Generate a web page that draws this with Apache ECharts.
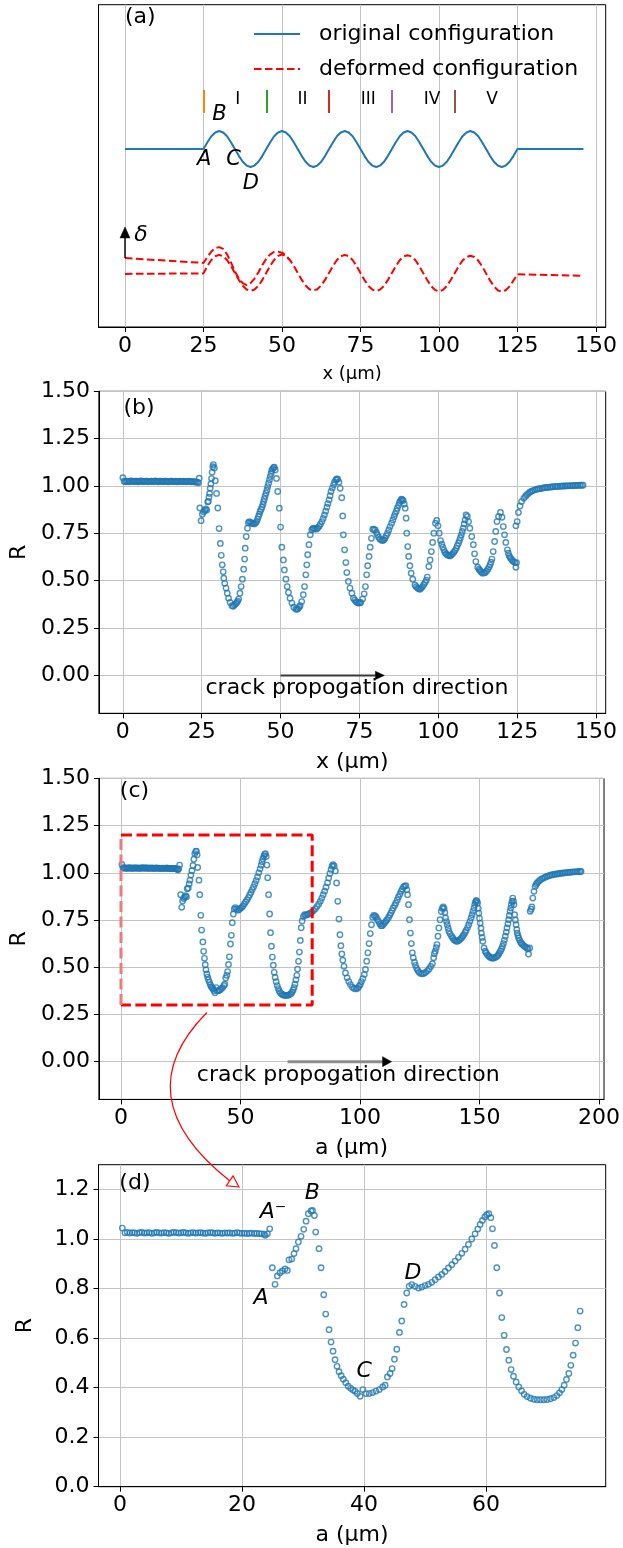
<!DOCTYPE html>
<html>
<head>
<meta charset="utf-8">
<script src="https://cdn.jsdelivr.net/npm/echarts@6/dist/echarts.min.js"></script>
<style>
  html, body { margin: 0; padding: 0; background: #fff; }
  #chart { width: 623px; height: 1548px; }
</style>
</head>
<body>
<div id="chart"></div>
<script>
const FONT = 'DejaVu Sans';

// ---- (a) crack path: original wavy profile and the deformed (opened) faces ----
const pathX = [0, 25, 26.25, 27.5, 28.75, 30, 31.25, 32.5, 33.75, 35, 36.25, 37.5, 38.75, 40, 41.25, 42.5, 43.75,
  45, 46.25, 47.5, 48.75, 50, 51.25, 52.5, 53.75, 55, 56.25, 57.5, 58.75, 60, 61.25, 62.5, 63.75,
  65, 66.25, 67.5, 68.75, 70, 71.25, 72.5, 73.75, 75, 76.25, 77.5, 78.75, 80, 81.25, 82.5, 83.75,
  85, 86.25, 87.5, 88.75, 90, 91.25, 92.5, 93.75, 95, 96.25, 97.5, 98.75, 100, 101.25, 102.5, 103.75,
  105, 106.25, 107.5, 108.75, 110, 111.25, 112.5, 113.75, 115, 116.25, 117.5, 118.75, 120, 121.25, 122.5, 123.75,
  125, 146];
const originalY = [0,
  0, 0.38, 0.71, 0.92, 1, 0.92, 0.71, 0.38, 0, -0.38, -0.71, -0.92, -1, -0.92, -0.71, -0.38,
  0, 0.38, 0.71, 0.92, 1, 0.92, 0.71, 0.38, 0, -0.38, -0.71, -0.92, -1, -0.92, -0.71, -0.38,
  0, 0.38, 0.71, 0.92, 1, 0.92, 0.71, 0.38, 0, -0.38, -0.71, -0.92, -1, -0.92, -0.71, -0.38,
  0, 0.38, 0.71, 0.92, 1, 0.92, 0.71, 0.38, 0, -0.38, -0.71, -0.92, -1, -0.92, -0.71, -0.38,
  0, 0.38, 0.71, 0.92, 1, 0.92, 0.71, 0.38, 0, -0.38, -0.71, -0.92, -1, -0.92, -0.71, -0.38,
  0, 0];
const deformedLowerY = [-6.94,
  -6.91, -6.5, -6.17, -5.96, -5.88, -5.96, -6.17, -6.5, -6.89, -7.27, -7.6, -7.81, -7.88, -7.81, -7.6, -7.27,
  -6.88, -6.49, -6.16, -5.94, -5.86, -5.94, -6.16, -6.49, -6.88, -7.26, -7.58, -7.79, -7.86, -7.79, -7.58, -7.26,
  -6.88, -6.5, -6.17, -5.96, -5.88, -5.96, -6.17, -6.5, -6.89, -7.27, -7.6, -7.81, -7.89, -7.81, -7.6, -7.27,
  -6.89, -6.51, -6.18, -5.97, -5.9, -5.97, -6.18, -6.51, -6.9, -7.28, -7.61, -7.83, -7.91, -7.83, -7.61, -7.28,
  -6.9, -6.52, -6.2, -6.0, -5.93, -6.0, -6.2, -6.52, -6.91, -7.3, -7.63, -7.85, -7.93, -7.85, -7.63, -7.3,
  -6.96, -7.04];
const deformedUpperX = [0, 25, 26.25, 27.5, 28.75, 30, 31.25, 32.5, 33.75, 35, 36.25, 37.5, 38.75, 40, 41.25,
  42.5, 43.75, 45, 46.25, 47.5, 48.75, 50, 51.25, 52.5];
const deformedUpperY = [-6.06, -6.33, -6.0, -5.7, -5.5, -5.45, -5.55, -5.85, -6.3, -6.8, -7.2, -7.45, -7.56, -7.45, -7.2,
  -6.85, -6.45, -6.1, -5.85, -5.72, -5.7, -5.76, -5.92, -6.17];

const regionMarkX = [25, 45, 65, 85, 105];
const regionMarkColors = ['#ff7f0e', '#2ca02c', '#d62728', '#9467bd', '#8c564b'];
const regionNames = ['I', 'II', 'III', 'IV', 'V'];
const regionNameX = [35.9, 56.5, 77.5, 97.8, 116.9];

// ---- (b) R against position x along the interface ----
const ratioByX = [
  [0,1.044],[0.4,1.025],[0.8,1.023],[1.2,1.026],[1.6,1.024],[2.0,1.022],[2.4,1.025],[2.8,1.027],[3.2,1.024],[3.6,1.023],
  [4.0,1.026],[4.4,1.025],[4.8,1.022],[5.2,1.024],[5.6,1.027],[6.0,1.025],[6.4,1.023],[6.8,1.024],[7.2,1.026],[7.6,1.025],
  [8.0,1.022],[8.4,1.024],[8.8,1.026],[9.2,1.025],[9.6,1.023],[10.0,1.025],[10.4,1.027],[10.8,1.024],[11.2,1.022],[11.6,1.025],
  [12.0,1.026],[12.4,1.024],[12.8,1.023],[13.2,1.025],[13.6,1.026],[14.0,1.024],[14.4,1.022],[14.8,1.024],[15.2,1.026],[15.6,1.025],
  [16.0,1.023],[16.4,1.024],[16.8,1.025],[17.2,1.022],[17.6,1.024],[18.0,1.026],[18.4,1.024],[18.8,1.023],[19.2,1.025],[19.6,1.024],
  [20.0,1.022],[20.4,1.024],[20.8,1.025],[21.2,1.023],[21.6,1.022],[22.0,1.024],[22.4,1.023],[22.8,1.021],[23.2,1.022],[23.6,1.02],
  [24.0,1.017],[24.2,1.041],
  [24.4,0.884],[24.8,0.817],[25.2,0.851],[25.6,0.864],[26.0,0.871],[26.3,0.879],[26.6,0.873],[26.9,0.916],[27.1,0.919],[27.3,0.941],
  [27.5,0.961],[27.7,0.988],[27.9,1.011],[28.1,1.039],[28.3,1.072],[28.5,1.102],[28.7,1.113],[29.0,1.095],[29.3,1.028],[29.7,0.961],
  [30.1,0.884],[30.5,0.775],[30.9,0.697],[31.2,0.634],[31.5,0.584],[31.8,0.547],[32.0,0.513],[32.3,0.486],[32.7,0.461],[33.1,0.434],
  [33.5,0.408],[34.0,0.385],[34.6,0.368],[35.0,0.365],[35.4,0.373],[35.8,0.378],[36.1,0.385],[36.4,0.392],[36.7,0.403],[37.1,0.434],
  [37.5,0.469],[37.9,0.508],[38.3,0.561],[38.6,0.614],[38.8,0.672],[39.1,0.733],[39.5,0.777],[39.8,0.806],[40.1,0.812],[40.5,0.808],
  [40.9,0.803],[41.3,0.801],[41.7,0.8],[42.1,0.806],[42.4,0.812],[42.7,0.825],[43.0,0.839],[43.3,0.852],[43.5,0.865],[43.8,0.876],
  [44.1,0.888],[44.4,0.903],[44.6,0.918],[44.9,0.933],[45.1,0.948],[45.4,0.963],[45.7,0.979],[45.9,0.997],[46.2,1.015],[46.5,1.033],
  [46.7,1.05],[47.0,1.066],[47.2,1.081],[47.5,1.09],[47.8,1.097],[48.0,1.1],[48.3,1.085],[48.7,1.04],[49.1,0.971],[49.6,0.883],
  [50.0,0.783],[50.4,0.677],[50.9,0.61],[51.2,0.557],[51.7,0.508],[52.1,0.469],[52.5,0.438],[53.0,0.408],[53.6,0.382],[54.2,0.36],
  [54.8,0.35],[55.2,0.349],[55.5,0.352],[55.9,0.36],[56.2,0.368],[56.7,0.39],[57.2,0.426],[57.6,0.469],[58.0,0.531],[58.3,0.584],
  [58.6,0.637],[59.0,0.69],[59.4,0.742],[59.9,0.768],[60.2,0.775],[60.5,0.777],[60.9,0.774],[61.4,0.772],[61.8,0.779],[62.2,0.786],
  [62.6,0.798],[63.1,0.812],[63.5,0.829],[63.9,0.847],[64.3,0.867],[64.7,0.888],[65.0,0.907],[65.4,0.927],[65.7,0.949],[66.0,0.971],
  [66.4,0.989],[66.8,1.006],[67.1,1.02],[67.5,1.032],[67.8,1.037],[68.1,1.036],[68.5,1.02],[68.9,0.988],[69.4,0.938],[69.7,0.842],
  [69.9,0.742],[70.3,0.663],[70.7,0.596],[71.0,0.543],[71.5,0.496],[72.0,0.461],[72.6,0.434],[73.1,0.408],[73.5,0.398],[73.9,0.39],
  [74.3,0.385],[74.7,0.382],[75.1,0.383],[75.4,0.385],[76.0,0.403],[76.5,0.431],[76.9,0.469],[77.3,0.531],[77.6,0.579],[78.05,0.628],
  [78.4,0.677],[78.8,0.724],[79.2,0.772],[79.6,0.771],[80.0,0.768],[80.4,0.755],[80.7,0.742],[81.1,0.73],[81.5,0.719],[82.0,0.714],
  [82.4,0.712],[82.8,0.716],[83.1,0.724],[83.5,0.737],[83.9,0.751],[84.3,0.768],[84.7,0.786],[85.2,0.804],[85.6,0.821],[86.0,0.838],
  [86.3,0.853],[86.7,0.868],[87.0,0.883],[87.4,0.898],[87.7,0.913],[88.0,0.922],[88.3,0.93],[88.6,0.928],[88.9,0.923],[89.2,0.905],
  [89.5,0.883],[89.8,0.83],[90.0,0.751],[90.3,0.68],[90.6,0.628],[91.0,0.579],[91.4,0.54],[91.9,0.508],[92.6,0.478],[93.0,0.468],
  [93.4,0.461],[93.8,0.457],[94.2,0.455],[94.6,0.461],[95.0,0.469],[95.4,0.479],[95.8,0.49],[96.2,0.503],[96.5,0.519],[97.0,0.575],
  [97.4,0.61],[97.8,0.654],[98.2,0.702],[98.6,0.751],[99.1,0.804],[99.5,0.818],[99.9,0.79],[100.3,0.751],[100.7,0.712],[101.1,0.693],
  [101.4,0.677],[101.8,0.662],[102.1,0.649],[102.5,0.641],[102.9,0.636],[103.3,0.633],[103.7,0.631],[104.1,0.636],[104.5,0.642],[104.9,0.65],
  [105.3,0.659],[105.7,0.671],[106.0,0.684],[106.4,0.698],[106.7,0.712],[107.0,0.727],[107.3,0.742],[107.6,0.76],[107.9,0.777],[108.2,0.8],
  [108.5,0.821],[108.8,0.847],[109.2,0.839],[109.6,0.812],[110.0,0.777],[110.6,0.733],[111.1,0.69],[111.5,0.642],[111.9,0.601],[112.5,0.571],
  [112.9,0.561],[113.2,0.554],[113.6,0.546],[114.0,0.54],[114.5,0.541],[114.9,0.543],[115.3,0.551],[115.7,0.561],[116.1,0.572],[116.4,0.584],
  [116.7,0.598],[117.0,0.614],[117.4,0.654],[117.85,0.707],[118.2,0.76],[118.6,0.812],[119.1,0.839],[119.7,0.86],[120.2,0.835],[120.6,0.786],
  [121.0,0.742],[121.4,0.702],[121.9,0.663],[122.2,0.645],[122.5,0.631],[122.8,0.622],[123.1,0.614],[123.5,0.607],[123.8,0.601],[124.3,0.596],
  [124.6,0.571],[124.8,0.596],
  [124.6,0.79],[125.0,0.812],[125.4,0.86],[125.9,0.895],[126.4,0.918],[127.1,0.935],[127.6,0.945],[128.0,0.953],[128.5,0.96],[129.0,0.967],
  [129.5,0.972],[130.0,0.976],[130.6,0.98],[131.2,0.983],[131.7,0.985],[132.2,0.986],[132.8,0.988],[133.3,0.99],[133.8,0.991],[134.3,0.992],
  [134.8,0.993],[135.4,0.994],[135.9,0.995],[136.4,0.996],[137.0,0.997],[137.5,0.998],[138.0,0.998],[138.6,0.999],[139.1,0.999],[139.6,1.0],
  [140.2,1.0],[140.7,1.001],[141.2,1.001],[141.7,1.002],[142.3,1.002],[142.8,1.002],[143.3,1.003],[143.8,1.003],[144.3,1.003],[144.9,1.004],
  [145.4,1.004],[145.9,1.004]
];

// ---- (c)/(d) R against crack length a ----
const ratioByA = [
  [0.38,1.044],[0.8,1.025],[1.2,1.027],[1.6,1.024],[2.0,1.026],[2.4,1.025],[2.8,1.023],[3.2,1.026],[3.6,1.027],[4.0,1.024],
  [4.4,1.025],[4.8,1.026],[5.2,1.023],[5.6,1.025],[6.0,1.027],[6.4,1.025],[6.8,1.024],[7.2,1.026],[7.6,1.025],[8.0,1.023],
  [8.4,1.025],[8.8,1.027],[9.2,1.026],[9.6,1.024],[10.0,1.025],[10.4,1.027],[10.8,1.025],[11.2,1.023],[11.6,1.025],[12.0,1.026],
  [12.4,1.024],[12.8,1.025],[13.2,1.026],[13.6,1.024],[14.0,1.023],[14.4,1.025],[14.8,1.026],[15.2,1.025],[15.6,1.023],[16.0,1.025],
  [16.4,1.024],[16.8,1.023],[17.2,1.025],[17.6,1.024],[18.0,1.025],[18.4,1.023],[18.8,1.024],[19.2,1.026],[19.6,1.024],[20.0,1.023],
  [20.4,1.024],[20.8,1.022],[21.2,1.023],[21.6,1.024],[22.0,1.022],[22.4,1.023],[22.8,1.022],[23.2,1.021],[23.6,1.02],[23.8,1.015],
  [24.15,1.021],[24.54,1.041],
  [24.97,0.884],[25.41,0.817],[25.79,0.851],[26.23,0.864],[26.61,0.871],[27.05,0.879],[27.43,0.873],[27.7,0.916],[28.14,0.919],[28.52,0.941],
  [28.85,0.961],[29.24,0.988],[29.67,1.011],[30.11,1.039],[30.49,1.072],[30.87,1.102],[31.31,1.113],[31.55,1.115],[31.86,1.095],[32.08,1.028],
  [32.62,0.961],[32.95,0.884],[33.39,0.775],[33.72,0.697],[34.26,0.634],[34.59,0.584],[34.92,0.547],[35.25,0.513],[35.57,0.486],[35.9,0.464],
  [36.25,0.448],[36.6,0.434],[37.0,0.42],[37.4,0.406],[37.8,0.397],[38.2,0.39],[38.55,0.385],[38.9,0.376],[39.35,0.365],[39.8,0.392],
  [40.3,0.376],[40.85,0.376],[41.4,0.38],[41.95,0.386],[42.5,0.392],[43.05,0.403],[43.45,0.41],[43.83,0.443],[44.27,0.457],[44.6,0.477],
  [44.98,0.515],[45.36,0.555],[45.8,0.623],[46.18,0.669],[46.56,0.736],[47.0,0.782],[47.38,0.809],[47.82,0.816],[48.36,0.809],[48.91,0.802],
  [49.46,0.806],[50.0,0.812],[50.55,0.817],[51.1,0.825],[51.64,0.836],[52.19,0.847],[52.74,0.857],[53.28,0.869],[53.83,0.883],[54.38,0.896],
  [54.92,0.911],[55.47,0.926],[56.02,0.942],[56.56,0.959],[57.11,0.978],[57.65,1.0],[58.2,1.021],[58.64,1.04],[59.02,1.059],[59.4,1.075],
  [59.79,1.089],[60.11,1.098],[60.44,1.102],[60.77,1.086],[61.04,1.041],[61.37,0.974],[61.75,0.884],[62.19,0.782],[62.57,0.683],[62.96,0.611],
  [63.34,0.554],[63.72,0.511],[64.1,0.473],[64.49,0.446],[64.92,0.423],[65.36,0.403],[65.8,0.387],[66.23,0.373],[66.73,0.364],[67.27,0.357],
  [67.82,0.353],[68.37,0.351],[68.91,0.351],[69.46,0.351],[70.0,0.352],[70.55,0.355],[71.1,0.36],[71.59,0.368],[72.03,0.379],[72.41,0.392],
  [72.79,0.41],[73.17,0.433],[73.56,0.457],[73.88,0.49],[74.27,0.531],[74.65,0.58],[75.03,0.642],[75.41,0.709],
  [75.8,0.745],[76.3,0.768],[76.8,0.778],[77.3,0.776],[77.9,0.778],[78.5,0.782],[79.2,0.787],[79.9,0.792],[80.6,0.8],[81.3,0.81],
  [82.0,0.821],[82.7,0.834],[83.4,0.849],[84.0,0.866],[84.6,0.884],[85.2,0.903],[85.8,0.924],[86.4,0.947],[86.9,0.972],[87.4,0.996],
  [87.9,1.018],[88.3,1.035],[88.7,1.043],[89.2,1.036],[89.7,1.01],[90.2,0.946],[90.7,0.849],[91.2,0.755],[91.6,0.672],[92.0,0.614],
  [92.4,0.57],[92.8,0.537],[93.3,0.505],[93.9,0.47],[94.6,0.444],[95.3,0.424],[96.0,0.408],[96.8,0.394],[97.6,0.387],[98.3,0.385],
  [99.0,0.389],[99.6,0.398],[100.1,0.408],[100.6,0.424],[101.2,0.44],[101.8,0.462],[102.3,0.488],[102.8,0.532],[103.3,0.576],[103.8,0.625],
  [104.3,0.678],[104.8,0.725],[105.3,0.765],[105.8,0.775],[106.3,0.772],[106.8,0.765],[107.3,0.752],[107.8,0.742],[108.3,0.73],[108.8,0.72],
  [109.3,0.72],[109.8,0.727],[110.3,0.735],[110.8,0.743],[111.3,0.752],[111.9,0.762],[112.4,0.775],[112.9,0.787],[113.4,0.8],[113.9,0.814],
  [114.5,0.827],[115.0,0.84],[115.6,0.856],[116.1,0.872],[116.7,0.887],[117.2,0.902],[117.7,0.914],[118.2,0.925],[118.7,0.93],[119.2,0.932],
  [119.6,0.91],[119.9,0.884],[120.3,0.831],[120.7,0.752],[121.1,0.681],[121.5,0.625],[121.9,0.576],[122.3,0.55],[122.8,0.527],[123.2,0.51],
  [123.7,0.494],[124.2,0.482],[124.7,0.473],[125.4,0.467],[126.1,0.465],[126.8,0.468],[127.5,0.473],[128.2,0.481],[128.9,0.491],[129.6,0.504],
  [130.3,0.519],[130.8,0.55],[131.1,0.572],[131.5,0.585],[131.9,0.603],[132.2,0.62],[132.6,0.664],[133.0,0.708],[133.5,0.752],[134.0,0.795],
  [134.4,0.812],[134.8,0.819],[135.2,0.812],[135.5,0.79],[135.8,0.761],[136.2,0.742],[136.5,0.725],[136.9,0.707],[137.2,0.69],[137.7,0.677],
  [138.3,0.664],[138.8,0.655],[139.3,0.646],[139.8,0.641],[140.3,0.637],[140.8,0.638],[141.4,0.643],[141.9,0.648],[142.5,0.655],[143.0,0.664],
  [143.5,0.673],[144.0,0.684],[144.4,0.695],[145.0,0.71],[145.5,0.725],[146.0,0.743],[146.5,0.761],[146.9,0.778],[147.3,0.796],[147.7,0.813],
  [148.0,0.831],[148.3,0.845],[148.6,0.854],[148.9,0.849],[149.2,0.84],[149.5,0.812],[149.7,0.787],[150.0,0.76],[150.3,0.734],[150.6,0.707],
  [150.8,0.681],[151.1,0.658],[151.4,0.637],[151.9,0.602],[152.4,0.585],[152.8,0.576],[153.3,0.566],[153.9,0.558],[154.4,0.553],[155.0,0.549],
  [155.5,0.548],[156.1,0.549],[156.7,0.553],[157.4,0.558],[157.9,0.566],[158.3,0.576],[158.8,0.586],[159.2,0.597],[159.6,0.61],[160.0,0.625],
  [160.4,0.644],[160.8,0.664],[161.2,0.686],[161.5,0.708],[161.9,0.73],[162.2,0.752],[162.5,0.774],[162.8,0.796],[163.1,0.813],[163.3,0.831],
  [163.6,0.848],[163.9,0.866],[164.2,0.85],[164.4,0.831],[164.7,0.778],[165.0,0.75],[165.3,0.725],[165.6,0.7],[165.8,0.681],[166.1,0.667],
  [166.4,0.655],[166.8,0.643],[167.2,0.632],[167.6,0.626],[168.0,0.62],[168.6,0.613],[169.2,0.607],[169.8,0.602],[170.3,0.597],[170.5,0.57],
  [171.0,0.602],
  [171.2,0.796],[171.6,0.807],[171.9,0.819],[172.3,0.866],[172.8,0.902],[173.3,0.928],[173.7,0.938],[174.1,0.946],[174.7,0.954],[175.4,0.962],
  [176.1,0.968],[176.8,0.972],[177.5,0.977],[178.2,0.981],[178.9,0.984],[179.6,0.987],[180.3,0.989],[181.0,0.991],[181.7,0.993],[182.4,0.994],
  [183.0,0.995],[183.7,0.997],[184.4,0.998],[185.1,0.999],[185.8,1.0],[186.5,1.001],[187.2,1.002],[187.9,1.003],[188.6,1.004],[189.3,1.005],
  [190.0,1.005],[190.7,1.006],[191.4,1.006],[192.1,1.007],[192.5,1.007]
];

// zoom window of (c) shown enlarged in (d)
const zoomBoxA = [0, 80];
const zoomBoxR = [0.3, 1.2];
const zoomedUpTo = 75.5;

const ticksX150 = [0, 25, 50, 75, 100, 125, 150];
const ticksA200 = [0, 50, 100, 150, 200];
const ticksA60 = [0, 20, 40, 60];
const ticksR = [0, 0.25, 0.5, 0.75, 1.0, 1.25, 1.5];
const ticksRd = [0, 0.2, 0.4, 0.6, 0.8, 1.0, 1.2];

const BLUE = '#1f77b4';
const GRID_COLOR = '#c4c4c4';

const grids = [
  { left: 98.5, top: 4.7, width: 507.2, height: 322.3 },
  { left: 98.5, top: 391.3, width: 507.2, height: 322 },
  { left: 98.5, top: 778.4, width: 507.2, height: 321 },
  { left: 98.5, top: 1164.7, width: 507.2, height: 322 }
].map(g => Object.assign({ show: true, borderColor: '#000', borderWidth: 1, backgroundColor: 'transparent' }, g));

function xAxisFor(gi, min, max, ticks, name, nameSize) {
  return {
    type: 'value', gridIndex: gi, min, max, name, nameLocation: 'middle', nameGap: 38,
    nameTextStyle: { fontFamily: FONT, fontSize: nameSize, color: '#000' },
    axisLine: { show: true, onZero: false, lineStyle: { color: '#000', width: 1 } },
    axisTick: { show: true, length: 5, customValues: ticks, lineStyle: { color: '#000', width: 1 } },
    axisLabel: { customValues: ticks, fontFamily: FONT, fontSize: 22, color: '#000', margin: 8 },
    splitLine: { show: true, lineStyle: { color: GRID_COLOR, width: 1 } }
  };
}
function yAxisFor(gi, min, max, ticks, digits) {
  return {
    type: 'value', gridIndex: gi, min, max, name: 'R', nameLocation: 'middle', nameGap: 62,
    nameTextStyle: { fontFamily: FONT, fontSize: 22, color: '#000' },
    axisLine: { show: true, onZero: false, lineStyle: { color: '#000', width: 1 } },
    axisTick: { show: true, length: 5, customValues: ticks, lineStyle: { color: '#000', width: 1 } },
    axisLabel: { customValues: ticks, fontFamily: FONT, fontSize: 22, color: '#000', margin: 9,
      formatter: v => Number(v).toFixed(digits) },
    splitLine: { show: true, lineStyle: { color: GRID_COLOR, width: 1 } }
  };
}

const ringStyle = { color: 'rgba(255,255,255,0)', borderColor: BLUE, borderWidth: 1.4 };

const option = {
  animation: false,
  backgroundColor: '#fff',
  textStyle: { fontFamily: FONT },
  grid: grids,
  legend: {
    data: ['original configuration', 'deformed configuration'],
    orient: 'vertical', left: 253, top: 23, padding: 0,
    itemWidth: 46, itemHeight: 12, itemGap: 13,
    selectedMode: false,
    itemStyle: { opacity: 0 },
    textStyle: { fontFamily: FONT, fontSize: 22, color: '#000', padding: [0, 0, 0, 14] }
  },
  xAxis: [
    xAxisFor(0, -8.44, 153.1, ticksX150, 'x (\u03bcm)', 18),
    xAxisFor(1, -7.6, 153.07, ticksX150, 'x (\u03bcm)', 22),
    xAxisFor(2, -9.25, 202.1, ticksA200, 'a (\u03bcm)', 22),
    xAxisFor(3, -3.52, 79.6, ticksA60, 'a (\u03bcm)', 22)
  ],
  yAxis: [
    { type: 'value', gridIndex: 0, min: -9.89, max: 8.02,
      axisLine: { show: true, onZero: false, lineStyle: { color: '#000' } },
      axisTick: { show: false }, axisLabel: { show: false }, splitLine: { show: false } },
    yAxisFor(1, -0.2, 1.5, ticksR, 2),
    yAxisFor(2, -0.2, 1.5, ticksR, 2),
    yAxisFor(3, 0, 1.3, ticksRd, 1)
  ],
  series: [
    { name: 'original configuration', type: 'line', xAxisIndex: 0, yAxisIndex: 0,
      data: pathX.map((x, i) => [x, originalY[i]]), symbol: 'none', smooth: false,
      lineStyle: { color: BLUE, width: 2 }, itemStyle: { color: BLUE } },
    { name: 'deformed configuration', type: 'line', xAxisIndex: 0, yAxisIndex: 0,
      data: pathX.map((x, i) => [x, deformedLowerY[i]]), symbol: 'none', smooth: false,
      lineStyle: { color: '#ff0000', width: 2, type: [7.5, 3.5] }, itemStyle: { color: '#ff0000' } },
    { name: 'deformed configuration', type: 'line', xAxisIndex: 0, yAxisIndex: 0,
      data: deformedUpperX.map((x, i) => [x, deformedUpperY[i]]), symbol: 'none', smooth: false,
      lineStyle: { color: '#ff0000', width: 2, type: [7.5, 3.5] }, itemStyle: { color: '#ff0000' } },
    { type: 'lines', coordinateSystem: 'cartesian2d', xAxisIndex: 0, yAxisIndex: 0, symbol: 'none',
      data: regionMarkX.map((x, i) => ({ coords: [[x, 2.0], [x, 3.28]], lineStyle: { color: regionMarkColors[i], width: 2, opacity: 1 } })) },
    { type: 'scatter', xAxisIndex: 1, yAxisIndex: 1, data: ratioByX, symbol: 'circle', symbolSize: 5.4, itemStyle: ringStyle },
    { type: 'scatter', xAxisIndex: 2, yAxisIndex: 2, data: ratioByA, symbol: 'circle', symbolSize: 5.4, itemStyle: ringStyle },
    { type: 'scatter', xAxisIndex: 3, yAxisIndex: 3, data: ratioByA.filter(p => p[0] <= zoomedUpTo), symbol: 'circle', symbolSize: 5.4, itemStyle: ringStyle },
    { type: 'line', xAxisIndex: 2, yAxisIndex: 2, symbol: 'none', z: 5,
      data: [[zoomBoxA[0], zoomBoxR[1]], [zoomBoxA[1], zoomBoxR[1]], [zoomBoxA[1], zoomBoxR[0]], [zoomBoxA[0], zoomBoxR[0]]],
      lineStyle: { color: '#ff0000', width: 3, type: [11, 4.5] } },
    { type: 'line', xAxisIndex: 2, yAxisIndex: 2, symbol: 'none', z: 5,
      data: [[zoomBoxA[0], zoomBoxR[0]], [zoomBoxA[0], zoomBoxR[1]]],
      lineStyle: { color: '#f07a7a', width: 3, type: [11, 4.5] } }
  ]
};

const chart = echarts.init(document.getElementById('chart'), null, { renderer: 'canvas', width: 623, height: 1548 });
chart.setOption(option);

// ---- annotations placed through the axes' own scales ----
const px = (g, p) => chart.convertToPixel({ gridIndex: g }, p);

function text(g, p, str, size, opts) {
  const q = px(g, p);
  const o = opts || {};
  const font = (o.italic ? 'italic ' : '') + size + 'px "' + FONT + '"';
  const align = o.align || 'center';
  return { type: 'text', x: q[0], y: q[1], z: 60,
    style: { text: str, font, fill: '#000', align, textAlign: align, verticalAlign: 'middle', textVerticalAlign: 'middle' } };
}

function arrow(p0, p1, o) {
  const dx = p1[0] - p0[0], dy = p1[1] - p0[1];
  const L = Math.hypot(dx, dy), ux = dx / L, uy = dy / L;
  const bx = p1[0] - ux * o.headLen, by = p1[1] - uy * o.headLen;
  const nx = -uy * o.headHalf, ny = ux * o.headHalf;
  return [
    { type: 'line', z: 55, shape: { x1: p0[0], y1: p0[1], x2: bx, y2: by }, style: { stroke: o.color, lineWidth: o.width } },
    { type: 'polygon', z: 56, shape: { points: [[p1[0], p1[1]], [bx + nx, by + ny], [bx - nx, by - ny]] },
      style: { fill: o.headColor, stroke: o.headColor, lineWidth: 0.5 } }
  ];
}

const els = [];
// panel letters
els.push(text(0, [0, 7.33], '(a)', 22, { align: 'left' }));
els.push(text(1, [0.2, 1.412], '(b)', 22, { align: 'left' }));
els.push(text(2, [-0.5, 1.432], '(c)', 22, { align: 'left' }));
els.push(text(3, [-0.1, 1.225], '(d)', 22, { align: 'left' }));

// (a) point labels and region names
els.push(text(0, [25.2, -0.56], 'A', 21, { italic: true }));
els.push(text(0, [30.1, 1.89], 'B', 21, { italic: true }));
els.push(text(0, [34.6, -0.56], 'C', 21, { italic: true }));
els.push(text(0, [40.1, -1.91], 'D', 21, { italic: true }));
regionNames.forEach((n, i) => els.push(text(0, [regionNameX[i], 2.74], n, 17)));

// opening displacement marker
els.push(...arrow(px(0, [0, -6.06]), px(0, [0, -4.33]), { color: '#000', headColor: '#000', width: 1.4, headLen: 11, headHalf: 5 }));
els.push(text(0, [5.1, -4.78], '\u03b4', 22, { italic: true }));

// crack propagation arrows
els.push(...arrow(px(1, [50, 0]), px(1, [82.9, 0]), { color: '#3a3a3a', headColor: '#000', width: 2, headLen: 9, headHalf: 4.2 }));
els.push(text(1, [74.2, -0.07], 'crack propogation direction', 22));
els.push(...arrow(px(2, [69.7, 0]), px(2, [113.2, 0]), { color: '#8c8c8c', headColor: '#000', width: 3, headLen: 9, headHalf: 5 }));
els.push(text(2, [95.1, -0.072], 'crack propogation direction', 22));

// (d) labels
els.push(text(3, [25.1, 1.109], 'A\u207b', 22, { italic: true }));
els.push(text(3, [31.5, 1.186], 'B', 22, { italic: true }));
els.push(text(3, [23.1, 0.76], 'A', 22, { italic: true }));
els.push(text(3, [40.0, 0.464], 'C', 22, { italic: true }));
els.push(text(3, [48.0, 0.86], 'D', 22, { italic: true }));

// curved connector from the zoom window in (c) down to (d)
const c0 = px(2, [35.96, 0.26]);
const cc = px(2, [1.08, -0.185]);
const c2 = px(3, [17.98, 1.235]);
const tip = px(3, [19.5, 1.21]);
els.push({ type: 'bezierCurve', z: 55, shape: { x1: c0[0], y1: c0[1], x2: c2[0], y2: c2[1], cpx1: cc[0], cpy1: cc[1] },
  style: { stroke: '#ff0000', lineWidth: 1.2, fill: 'none' } });
(function () {
  const dx = tip[0] - c2[0], dy = tip[1] - c2[1], L = Math.hypot(dx, dy);
  const nx = -dy / L * 6, ny = dx / L * 6;
  els.push({ type: 'polygon', z: 56, shape: { points: [[tip[0], tip[1]], [c2[0] + nx, c2[1] + ny], [c2[0] - nx, c2[1] - ny]] },
    style: { fill: '#fff', stroke: '#ff0000', lineWidth: 1.2 } });
})();

chart.setOption({ graphic: { elements: els } });
</script>
</body>
</html>
